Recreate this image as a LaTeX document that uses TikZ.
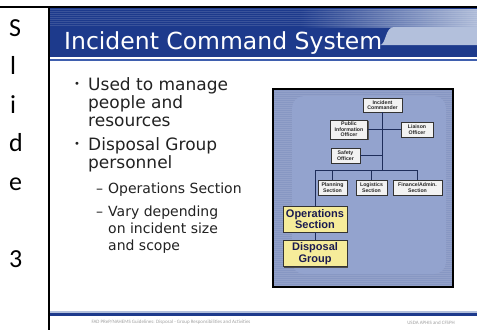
\documentclass[tikz,border=0pt]{standalone}
\usepackage{fontspec}
\setmainfont{DejaVu Sans}
\newfontfamily\calfont{Carlito}
\newfontfamily\arialfont{Liberation Sans}
\usetikzlibrary{shadows}
\definecolor{tband}{HTML}{1D3A8C}
\definecolor{tlight}{HTML}{AEBBD8}
\definecolor{tabc}{HTML}{B3C0DC}
\definecolor{tmid}{HTML}{3F5FAE}
\definecolor{orgbg}{HTML}{8797C3}
\definecolor{orginner}{HTML}{93A3CE}
\definecolor{boxfill}{HTML}{F2F2F2}
\definecolor{boxline}{HTML}{333333}
\definecolor{yfill}{HTML}{F6EC9A}
\definecolor{ytext}{HTML}{1A1A50}
\definecolor{linec}{HTML}{1E2D5A}
\definecolor{bodyc}{HTML}{222222}
\definecolor{footc}{HTML}{A0A0A0}
\tikzset{
  sidel/.style={anchor=base west, inner sep=0, font=\calfont\fontsize{26}{30}\selectfont, text=black},
  lvone/.style={anchor=base west, inner sep=0, font=\fontsize{17}{20}\selectfont, text=bodyc},
  lvtwo/.style={anchor=base west, inner sep=0, font=\fontsize{14}{17}\selectfont, text=bodyc},
  bul/.style={anchor=center, inner sep=0, font=\fontsize{10}{10}\selectfont, text=bodyc},
  smallbox/.style={draw=boxline, fill=boxfill, line width=0.5pt, inner sep=0pt, align=center,
     font=\arialfont\bfseries\fontsize{5.2}{5.4}\selectfont, text=black!85,
     drop shadow={shadow xshift=1pt, shadow yshift=-1pt, fill=black!65, opacity=1}},
  ybox/.style={draw=boxline, fill=yfill, line width=0.6pt, inner sep=0pt, align=center,
     minimum width=64pt, minimum height=26pt,
     font=\arialfont\bfseries\fontsize{11}{11.5}\selectfont, text=ytext,
     drop shadow={shadow xshift=1.3pt, shadow yshift=-1.3pt, fill=black!70, opacity=1}},
  conn/.style={draw=linec, line width=0.8pt},
  foot/.style={inner sep=0, font=\calfont\fontsize{5}{6}\selectfont, text=footc}
}
\begin{document}
\begin{tikzpicture}[x=1pt,y=-1pt]
\useasboundingbox (0,0) rectangle (477,330);
\fill[white] (0,0) rectangle (477,330);

% title band
\fill[tband] (50,8) rectangle (477,57);
\shade[left color=tband, right color=tlight] (300,9) rectangle (477,27);
\foreach \yy in {9,11,...,26} \draw[white, opacity=0.13, line width=0.8pt] (50,\yy) -- (477,\yy);
\fill[tabc] (380,45) .. controls (386,45) and (385,27) .. (394,27) -- (477,27) -- (477,45) -- cycle;
\fill[white] (50,57) rectangle (477,58.5);
\fill[tmid] (50,58.5) rectangle (477,60.5);

% table borders
\fill[black] (0,5.5) rectangle (477,8);
\fill[black] (47.5,5.5) rectangle (50,330);

% left column letters
\node[sidel] (s1) at (9,36) {S};
\node[sidel] (s2) at (10,74.5) {l};
\node[sidel] (s3) at (10,113) {i};
\node[sidel] (s4) at (9,151.5) {d};
\node[sidel] (s5) at (9,190) {e};
\node[sidel] (s6) at (9,267) {3};

% title
\node[anchor=base west, inner sep=0, text=white, font=\fontsize{23.5}{28}\selectfont] (title) at (64,49.5) {Incident Command System};

% bullets
\node[bul] (b1) at (77,85) {•};
\node[lvone] (t1) at (88,90.7) {Used to manage};
\node[lvone] (t2) at (88,108.5) {people and};
\node[lvone] (t3) at (88,126.3) {resources};
\node[bul] (b2) at (77,144.5) {•};
\node[lvone] (t4) at (88,150.2) {Disposal Group};
\node[lvone] (t5) at (88,168) {personnel};
\node[lvtwo] (d1) at (96,193) {–};
\node[lvtwo] (t6) at (108,193) {Operations Section};
\node[lvtwo] (d2) at (96,216) {–};
\node[lvtwo] (t7) at (108,216) {Vary depending};
\node[lvtwo] (t8) at (108,233) {on incident size};
\node[lvtwo] (t9) at (108,250) {and scope};

% org chart background
\fill[orgbg] (273,89) rectangle (453,287);
\foreach \yy in {91,93,...,285} \draw[white, opacity=0.10, line width=0.6pt] (274,\yy) -- (452,\yy);
\fill[orginner, rounded corners=12pt] (292,96) rectangle (446,274);
\draw[black, line width=1.3pt] (273,89) rectangle (453,287);

% org boxes
\node[smallbox, minimum width=39pt, minimum height=14pt] (ic) at (382.5,105) {Incident\\Commander};
\node[smallbox, minimum width=37pt, minimum height=18.5pt] (pio) at (349,129.5) {Public\\Information\\Officer};
\node[smallbox, minimum width=32pt, minimum height=15pt] (lia) at (417,129.5) {Liaison\\Officer};
\node[smallbox, minimum width=29pt, minimum height=15pt] (saf) at (345.5,155.5) {Safety\\Officer};
\node[smallbox, minimum width=29pt, minimum height=15pt] (pla) at (332.5,187.5) {Planning\\Section};
\node[smallbox, minimum width=31pt, minimum height=15pt] (log) at (371.5,187.5) {Logistics\\Section};
\node[smallbox, minimum width=49pt, minimum height=15pt] (fin) at (417.5,187.5) {Finance/Admin.\\Section};
\node[ybox] (ops) at (315,219) {Operations\\Section};
\node[ybox] (dis) at (315,253.5) {Disposal\\Group};

\coordinate (jc) at (382.5,170);
\coordinate (jl) at (315,170);
\coordinate (jr) at (417.5,170);
\draw[conn] (ic.south) -- (jc);
\draw[conn] (pio.east) -- (lia.west);
\draw[conn] (saf.east) -- (saf.east -| jc);
\draw[conn] (jl) -- (jr);
\draw[conn] (pla.north) -- (pla.north |- jc);
\draw[conn] (log.north) -- (log.north |- jc);
\draw[conn] (fin.north) -- (fin.north |- jc);
\draw[conn] (jl) -- (ops.north);
\draw[conn] (ops.south) -- (dis.north);

% footer
\fill[tabc] (50,311) rectangle (477,312.5);
\fill[tband] (50,313) rectangle (477,315.5);
\node[foot] (f1) at (171,322.5) {FAD PReP/NAHEMS Guidelines: Disposal - Group Responsibilities and Activities};
\node[foot] (f2) at (431,322.5) {USDA APHIS and CFSPH};
\end{tikzpicture}
\end{document}
